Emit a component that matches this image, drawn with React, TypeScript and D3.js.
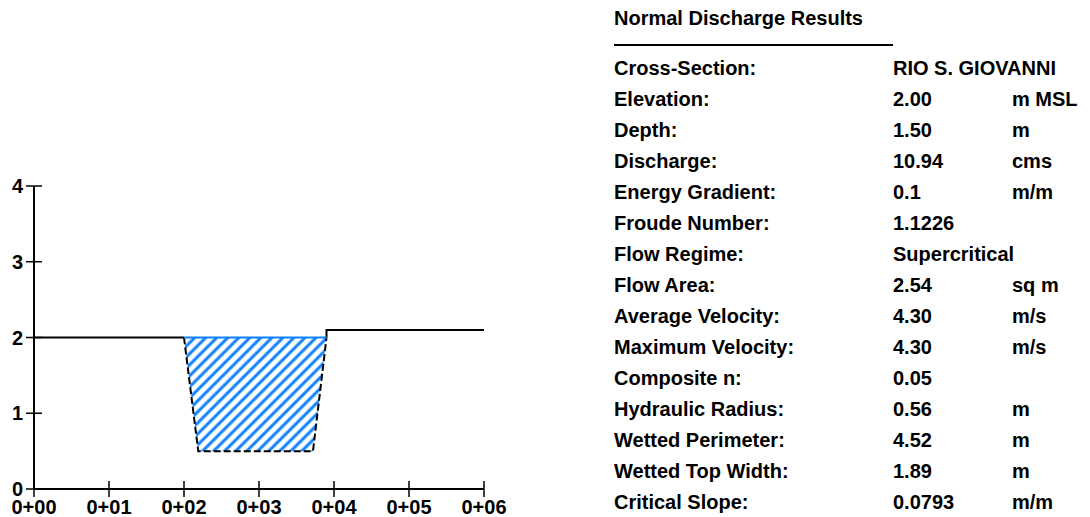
import React, { useEffect, useRef } from "react";
import * as d3 from "d3";

// cross-section ground profile (station in 100 m, elevation in m MSL)
const stations = [0, 2.0, 2.19, 3.72, 3.9, 3.9, 6.0];
const elevations = [2.0, 2.0, 0.5, 0.5, 2.0, 2.1, 2.1];
const channelStart = 1;
const channelEnd = 4;
const waterElevation = 2.0;

const xTicks = [0, 1, 2, 3, 4, 5, 6];
const xTickLabels = ["0+00", "0+01", "0+02", "0+03", "0+04", "0+05", "0+06"];
const yTicks = [0, 1, 2, 3, 4];

const tableTitle = "Normal Discharge Results";
const resultLabels = [
  "Cross-Section:",
  "Elevation:",
  "Depth:",
  "Discharge:",
  "Energy Gradient:",
  "Froude Number:",
  "Flow Regime:",
  "Flow Area:",
  "Average Velocity:",
  "Maximum Velocity:",
  "Composite n:",
  "Hydraulic Radius:",
  "Wetted Perimeter:",
  "Wetted Top Width:",
  "Critical Slope:",
];
const resultValues = [
  "RIO S. GIOVANNI",
  "2.00",
  "1.50",
  "10.94",
  "0.1",
  "1.1226",
  "Supercritical",
  "2.54",
  "4.30",
  "4.30",
  "0.05",
  "0.56",
  "4.52",
  "1.89",
  "0.0793",
];
const resultUnits = ["", "m MSL", "m", "cms", "m/m", "", "", "sq m", "m/s", "m/s", "", "m", "m", "m", "m/m"];

const FONT = "'Liberation Sans', Arial, Helvetica, sans-serif";
const BLUE = "#0f80ff";

export default function App() {
  const ref = useRef<SVGSVGElement>(null);
  const width = 1090;
  const height = 517;

  useEffect(() => {
    const svg = d3.select(ref.current);
    svg.selectAll("*").remove();

    const x = d3.scaleLinear().domain([0, 6]).range([34, 484]);
    const y = d3.scaleLinear().domain([0, 4]).range([489, 186]);

    // hatch pattern for the flow area
    const pat = svg
      .append("defs")
      .append("pattern")
      .attr("id", "hatch")
      .attr("patternUnits", "userSpaceOnUse")
      .attr("width", 7.8)
      .attr("height", 7.8)
      .attr("patternTransform", "rotate(45)");
    pat
      .append("line")
      .attr("x1", 2)
      .attr("x2", 2)
      .attr("y1", 0)
      .attr("y2", 7.8)
      .attr("stroke", BLUE)
      .attr("stroke-width", 3);

    const pts: [number, number][] = stations.map((s, i) => [s, elevations[i]]);

    // axes
    svg
      .append("line")
      .attr("x1", x(0))
      .attr("x2", x(6))
      .attr("y1", y(0))
      .attr("y2", y(0))
      .attr("stroke", "#000")
      .attr("stroke-width", 2);
    svg
      .append("line")
      .attr("x1", x(0))
      .attr("x2", x(0))
      .attr("y1", y(0))
      .attr("y2", y(4))
      .attr("stroke", "#000")
      .attr("stroke-width", 2);

    svg
      .selectAll(".xtick")
      .data(xTicks)
      .enter()
      .append("line")
      .attr("x1", (d) => x(d))
      .attr("x2", (d) => x(d))
      .attr("y1", y(0) - 8)
      .attr("y2", y(0) + 8)
      .attr("stroke", "#000")
      .attr("stroke-width", 1.5);

    svg
      .selectAll(".xlabel")
      .data(xTicks)
      .enter()
      .append("text")
      .attr("x", (d) => x(d))
      .attr("y", 514)
      .attr("text-anchor", "middle")
      .style("font-family", FONT)
      .style("font-weight", "bold")
      .style("font-size", "20px")
      .text((d, i) => xTickLabels[i]);

    svg
      .selectAll(".ytick")
      .data(yTicks)
      .enter()
      .append("line")
      .attr("x1", x(0) - 8)
      .attr("x2", x(0) + 8)
      .attr("y1", (d) => y(d))
      .attr("y2", (d) => y(d))
      .attr("stroke", "#000")
      .attr("stroke-width", 1.5);

    svg
      .selectAll(".ylabel")
      .data(yTicks)
      .enter()
      .append("text")
      .attr("x", 23)
      .attr("y", (d) => y(d))
      .attr("dy", "0.35em")
      .attr("text-anchor", "end")
      .style("font-family", FONT)
      .style("font-weight", "bold")
      .style("font-size", "20px")
      .text((d) => d);

    // water area
    const water = pts.slice(channelStart, channelEnd + 1).filter((p) => p[1] <= waterElevation);
    svg
      .append("path")
      .attr("d", d3.line().x((d) => x(d[0])).y((d) => y(d[1]))(water) + "Z")
      .attr("fill", "url(#hatch)");

    // ground: banks solid, channel dashed
    const line = d3
      .line<[number, number]>()
      .x((d) => x(d[0]))
      .y((d) => y(d[1]));

    svg
      .append("path")
      .attr("d", line(pts.slice(0, channelStart + 1)))
      .attr("fill", "none")
      .attr("stroke", "#000")
      .attr("stroke-width", 2);
    svg
      .append("path")
      .attr("d", line(pts.slice(channelEnd)))
      .attr("fill", "none")
      .attr("stroke", "#000")
      .attr("stroke-width", 2);
    svg
      .append("path")
      .attr("d", line(pts.slice(channelStart, channelEnd + 1)))
      .attr("fill", "none")
      .attr("stroke", "#000")
      .attr("stroke-width", 2)
      .attr("stroke-dasharray", "7 3");

    // water surface
    svg
      .append("line")
      .attr("x1", x(water[0][0]))
      .attr("x2", x(water[water.length - 1][0]))
      .attr("y1", y(waterElevation))
      .attr("y2", y(waterElevation))
      .attr("stroke", BLUE)
      .attr("stroke-width", 2);

    // results table
    const rowY = d3.scalePoint<string>().domain(resultLabels).range([75, 509]);
    const tbl = svg.append("g").style("font-family", FONT).style("font-weight", "bold").style("font-size", "20px");

    tbl.append("text").attr("x", 614).attr("y", 25).text(tableTitle);
    tbl
      .append("line")
      .attr("x1", 614)
      .attr("x2", 893)
      .attr("y1", 45)
      .attr("y2", 45)
      .attr("stroke", "#000")
      .attr("stroke-width", 2);

    tbl
      .selectAll(".lbl")
      .data(resultLabels)
      .enter()
      .append("text")
      .attr("x", 614)
      .attr("y", (d) => rowY(d)!)
      .text((d) => d);
    tbl
      .selectAll(".val")
      .data(resultValues)
      .enter()
      .append("text")
      .attr("x", 893)
      .attr("y", (d, i) => rowY(resultLabels[i])!)
      .text((d) => d);
    tbl
      .selectAll(".unit")
      .data(resultUnits)
      .enter()
      .append("text")
      .attr("x", 1012)
      .attr("y", (d, i) => rowY(resultLabels[i])!)
      .text((d) => d);
  }, []);

  return (
    <div style={{ position: "absolute", left: 0, top: 0, width, height, background: "#fff" }}>
      <svg ref={ref} width={width} height={height}></svg>
    </div>
  );
}
